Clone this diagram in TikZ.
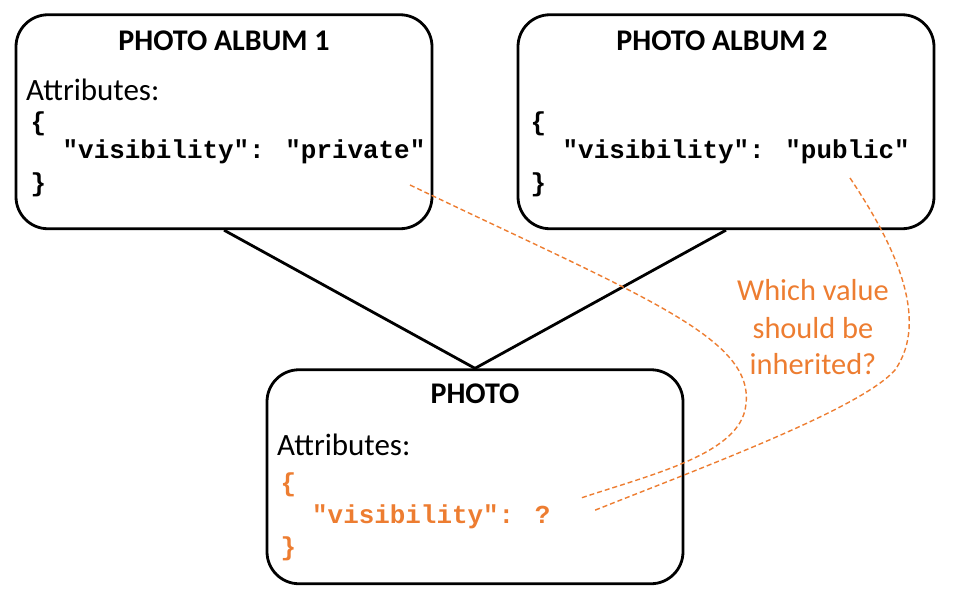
\documentclass[tikz,border=0pt]{standalone}
\usepackage{fontspec}
\setmainfont{Carlito}
\newfontfamily\codefont{Liberation Mono}
\usetikzlibrary{positioning}
\definecolor{askorange}{RGB}{237,125,49}

\begin{document}
\begin{tikzpicture}[x=1pt,y=-1pt,inner sep=0pt,
  box/.style={draw,line width=2.8pt,rounded corners=32pt,
    minimum width=416pt,minimum height=214pt},
  title/.style={anchor=base,font=\fontsize{30}{34}\selectfont\bfseries},
  attr/.style={anchor=base west,font=\fontsize{31}{36}\selectfont},
  code/.style={anchor=base west,font=\fontsize{25.9}{30}\selectfont\codefont\bfseries},
  link/.style={line width=2.8pt},
  query/.style={askorange,line width=1.4pt,dash pattern=on 5pt off 3pt},
  query text/.style={anchor=base,askorange,font=\fontsize{30.4}{36}\selectfont}]
\useasboundingbox (0,0) rectangle (954,594);

\node[box] (A1) at (224,121.75) {};
\node[box] (A2) at (726,121.75) {};
\node[box] (P)  at (475,476.75) {};

\node[title] (A1title) at (224,50.5) {PHOTO ALBUM 1};
\node[title] (A2title) at (722,50.5) {PHOTO ALBUM 2};
\node[title] (Ptitle)  at (475,403.5) {PHOTO};

\node[attr] (A1attr) at (26,100.5) {Attributes:};
\node[attr] (Pattr)  at (277,455.5) {Attributes:};

\node[code] (A1open)  at (30.5,130) {\{};
\node[code] (A1vis)   at (62.5,158.5) {"visibility": "private"};
\node[code] (A1close) at (30.5,191) {\}};

\node[code] (A2open)  at (530.5,130) {\{};
\node[code] (A2vis)   at (562.5,158.5) {"visibility": "public"};
\node[code] (A2close) at (530.5,191) {\}};

\node[code,askorange] (Popen)  at (280.5,491) {\{};
\node[code,askorange] (Pvis)   at (312,523) {"visibility": ?};
\node[code,askorange] (Pclose) at (280.5,555) {\}};

\foreach \name/\txt/\y in {Q1/Which value/300.7,Q2/should be/338,Q3/inherited?/374}
  \node[query text] (\name) at (813,\y) {\txt};

\draw[link] (A1.south) -- (P.north) -- (A2.south);

\coordinate (priv) at (410,185);
\coordinate (pub)  at (850,178);
\coordinate (ask1) at (581,498);
\coordinate (ask2) at (593,511);
\draw[query] (priv) .. controls (650,300) and (760,340) .. (745,410)
  .. controls (735,455) and (650,475) .. (ask1);
\draw[query] (pub) .. controls (895,245) and (930,320) .. (895,370)
  .. controls (860,410) and (690,472) .. (ask2);
\end{tikzpicture}
\end{document}
